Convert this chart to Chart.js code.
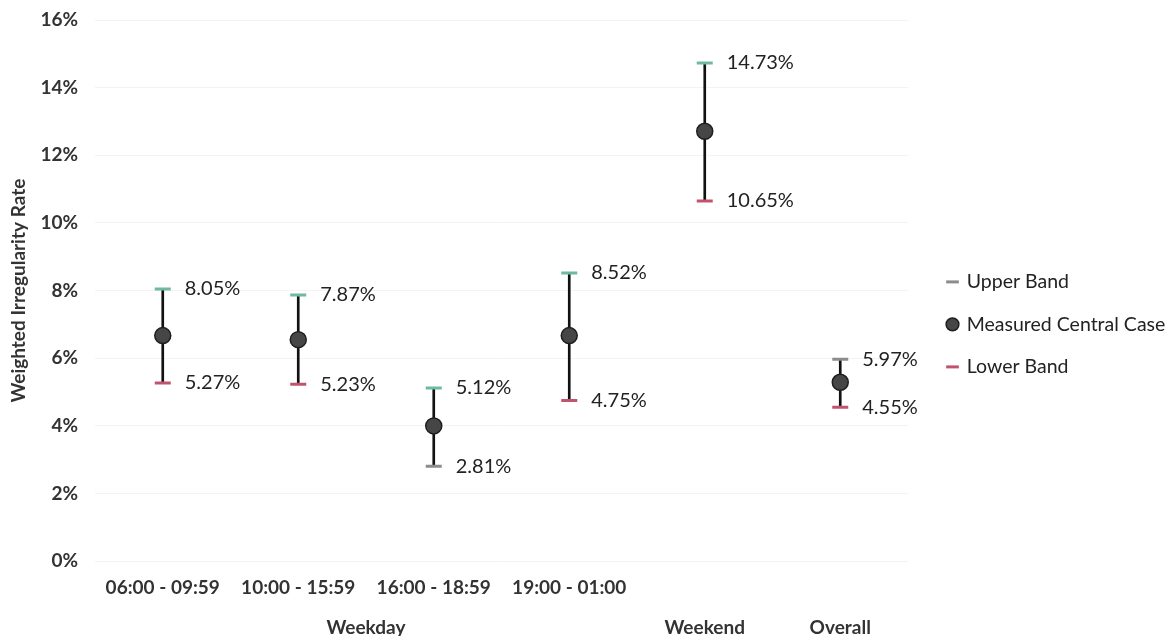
<!DOCTYPE html>
<html>
<head>
<meta charset="utf-8">
<script src="https://cdn.jsdelivr.net/npm/chart.js@4.4.1/dist/chart.umd.min.js"></script>
<style>
  body { margin: 0; background: #fff; }
  #wrap { width: 1174px; height: 636px; }
</style>
</head>
<body>
<div id="wrap"><canvas id="chart"></canvas></div>
<script>
// categories and groups
const categories = ['06:00 - 09:59', '10:00 - 15:59', '16:00 - 18:59', '19:00 - 01:00', '', ''];
const groupNames = ['Weekday', 'Weekend', 'Overall'];
const groupFirst = [0, 4, 5];
const groupLast = [3, 4, 5];

// values in %
const upperBand = [8.05, 7.87, 5.12, 8.52, 14.73, 5.97];
const centralCase = [6.67, 6.55, 4.00, 6.67, 12.71, 5.29];
const lowerBand = [5.27, 5.23, 2.81, 4.75, 10.65, 4.55];

const yTicks = [0, 2, 4, 6, 8, 10, 12, 14, 16];

const FONT = 'Lato, "Open Sans", sans-serif';
const TEAL = '#6db9a2';
const PINK = '#c0546f';
const GREY = '#8c8c8c';

// value labels beside caps + group labels under the axis
const annotate = {
  id: 'annotate',
  afterDatasetsDraw(chart) {
    const ctx = chart.ctx;
    const x = chart.scales.x, y = chart.scales.y;
    ctx.save();
    ctx.font = '20px ' + FONT;
    ctx.fillStyle = '#222';
    ctx.textAlign = 'left';
    ctx.textBaseline = 'middle';
    upperBand.forEach((v, i) => {
      ctx.fillText(v.toFixed(2) + '%', x.getPixelForValue(i) + 22, y.getPixelForValue(v));
    });
    lowerBand.forEach((v, i) => {
      ctx.fillText(v.toFixed(2) + '%', x.getPixelForValue(i) + 22, y.getPixelForValue(v));
    });
    ctx.font = 'bold 19px ' + FONT;
    ctx.fillStyle = '#333';
    ctx.textAlign = 'center';
    groupNames.forEach((g, i) => {
      const cx = (x.getPixelForValue(groupFirst[i]) + x.getPixelForValue(groupLast[i])) / 2;
      ctx.fillText(g, cx, chart.chartArea.bottom + 67);
    });
    ctx.restore();
  }
};

// widen the legend box so the plot stops where the original does,
// then nudge the legend items right
const legendWidth = {
  id: 'legendWidth',
  beforeInit(chart) {
    const fit = chart.legend.fit;
    chart.legend.fit = function () {
      fit.bind(chart.legend)();
      this.width = 266;
    };
  },
  afterLayout(chart) {
    chart.legend.left += 17;
  }
};

new Chart(document.getElementById('chart'), {
  type: 'bar',
  data: {
    labels: categories,
    datasets: [
      {
        type: 'line',
        label: 'Upper Band',
        data: upperBand,
        showLine: false,
        pointStyle: 'line',
        pointRadius: 8,
        pointHoverRadius: 8,
        pointBorderWidth: 3,
        pointBorderColor: [TEAL, TEAL, TEAL, TEAL, TEAL, GREY],
        order: 1
      },
      {
        type: 'line',
        label: 'Measured Central Case',
        data: centralCase,
        showLine: false,
        pointStyle: 'circle',
        pointRadius: 8,
        pointHoverRadius: 8,
        pointBackgroundColor: '#464646',
        pointBorderColor: '#1e1e1e',
        pointBorderWidth: 1.5,
        order: 0
      },
      {
        type: 'line',
        label: 'Lower Band',
        data: lowerBand,
        showLine: false,
        pointStyle: 'line',
        pointRadius: 8,
        pointHoverRadius: 8,
        pointBorderWidth: 3,
        pointBorderColor: [PINK, PINK, GREY, PINK, PINK, PINK],
        order: 1
      },
      {
        label: 'range',
        data: upperBand.map((u, i) => [lowerBand[i], u]),
        backgroundColor: '#111',
        barThickness: 2,
        order: 2
      }
    ]
  },
  options: {
    responsive: true,
    maintainAspectRatio: false,
    animation: false,
    layout: { padding: { top: 20, bottom: 30, left: 0, right: 0 } },
    scales: {
      x: {
        grid: { display: false },
        border: { display: false },
        ticks: {
          padding: 7,
          maxRotation: 0,
          autoSkip: false,
          color: '#333',
          font: { family: FONT, size: 19, weight: 'bold' }
        }
      },
      y: {
        min: 0,
        max: 16,
        afterBuildTicks: axis => { axis.ticks = yTicks.map(v => ({ value: v })); },
        afterFit: axis => { axis.width = 95; axis.paddingTop = 0; },
        grid: { color: '#f3f3f3', drawTicks: false },
        border: { display: false },
        ticks: {
          padding: 17,
          color: '#333',
          font: { family: FONT, size: 19, weight: 'bold' },
          callback: v => v + '%'
        },
        title: {
          display: true,
          text: 'Weighted Irregularity Rate',
          color: '#333',
          padding: { top: 7, bottom: 0 },
          font: { family: FONT, size: 19, weight: 'bold' }
        }
      }
    },
    plugins: {
      tooltip: { enabled: false },
      legend: {
        position: 'right',
        title: { display: true, text: ' ', padding: 0, font: { family: FONT, size: 19 } },
        labels: {
          usePointStyle: true,
          boxHeight: 9,
          boxWidth: 9,
          padding: 23,
          color: '#222',
          font: { family: FONT, size: 19.5 },
          filter: item => item.datasetIndex !== 3,
          sort: (a, b) => a.datasetIndex - b.datasetIndex,
          generateLabels: chart => {
            const items = Chart.defaults.plugins.legend.labels.generateLabels(chart);
            items.forEach(it => {
              if (it.datasetIndex === 0) { it.strokeStyle = GREY; it.lineWidth = 3; }
              if (it.datasetIndex === 2) { it.strokeStyle = PINK; it.lineWidth = 3; }
            });
            return items;
          }
        }
      }
    }
  },
  plugins: [annotate, legendWidth]
});
</script>
</body>
</html>
